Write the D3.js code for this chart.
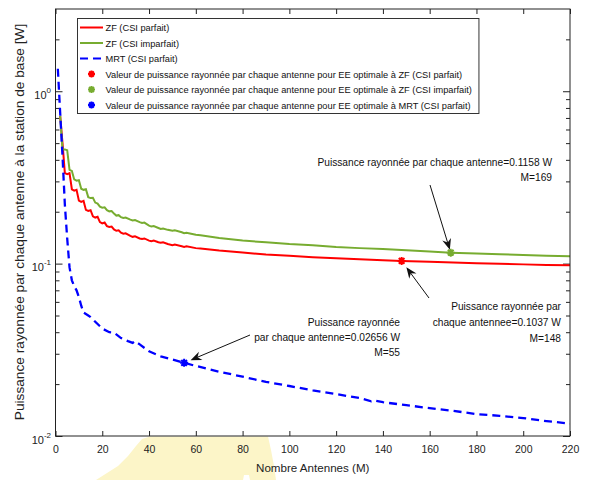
<!DOCTYPE html>
<html>
<head>
<meta charset="utf-8">
<script src="https://cdn.jsdelivr.net/npm/d3@7"></script>
<style>
  html, body { margin: 0; padding: 0; background: #fff; }
  svg { display: block; font-family: "Liberation Sans", Arial, Helvetica, sans-serif; }
</style>
</head>
<body>
<svg id="chart" width="592" height="480"></svg>
<script>
// ---- data -------------------------------------------------------------
// ZF, perfect CSI: radiated power per antenna [W] versus number of antennas M
const zfPerfectM = [2,3,4,5,6,7,8,9,10,11,12,13,14,15,16,17,18,19,20,21,22,23,24,25,26,27,28,29,30,
  32,33,34,36,37,38,40,41,42,44,45,46,48,50,51,54,55,56,60,62,
  70,80,90,100,110,120,130,140,148,160,170,180,190,200,210,220];
const zfPerfectP = [0.72,0.50,0.335,0.33,0.335,0.27,0.265,0.268,0.232,0.228,
  0.231,0.205,0.202,0.204,0.188,0.185,0.187,0.174,0.171,0.173,
  0.165,0.163,0.164,0.158,0.155,0.156,0.151,0.149,0.150,
  0.145,0.143,0.144,0.140,0.139,0.140,0.136,0.135,0.136,0.133,0.132,0.133,0.130,0.128,0.129,
  0.126,0.125,0.126,0.123,0.1225,
  0.119,0.116,0.113,0.111,0.109,0.1075,0.106,0.1047,0.1037,
  0.1025,0.1015,0.1005,0.0997,0.099,0.0983,0.0977];

// ZF, imperfect CSI
const zfImperfectM = [2,3,4,5,6,7,8,9,10,11,12,13,14,15,16,17,18,19,20,21,22,23,24,25,26,27,28,29,30,
  32,33,34,36,37,38,40,41,42,44,45,46,48,50,51,54,55,56,60,62,
  70,80,90,100,110,120,130,140,150,160,169,180,190,200,210,220];
const zfImperfectP = [0.72,0.46,0.46,0.455,0.35,0.345,0.308,0.303,0.305,0.272,
  0.268,0.270,0.243,0.240,0.241,0.226,0.223,0.214,0.211,0.212,
  0.204,0.201,0.202,0.195,0.190,0.191,0.186,0.184,0.185,
  0.180,0.178,0.179,0.174,0.172,0.173,0.166,0.164,0.165,0.161,0.159,0.160,0.157,0.155,0.156,
  0.152,0.150,0.151,0.147,0.146,
  0.141,0.136,0.133,0.130,0.128,0.125,0.123,0.1215,
  0.1195,0.1175,0.1158,0.1145,0.1133,0.1122,0.1112,0.1103];

// MRT, perfect CSI
const mrtM = [1,2,3,4,5,6,7,8,9,10,11,12,13,14,15,17,20,23,25,28,31,33,34,36,40,
  45,50,55,60,70,80,90,100,110,120,130,135,136,140,150,160,170,180,190,200,210,220];
const mrtP = [1.35,0.75,0.42,0.22,0.14,0.095,0.080,0.074,0.070,0.064,0.057,0.052,0.051,0.050,0.049,
  0.046,0.042,0.040,0.0398,0.037,0.0355,0.0347,0.0355,0.034,0.031,
  0.029,0.0278,0.02656,0.0255,0.0236,0.0221,0.0206,0.0195,0.0184,0.0175,0.0166,
  0.0159,0.0161,0.0157,0.0151,0.0145,0.0140,0.0134,0.0131,0.0127,0.0122,0.0118];

// Energy-efficiency optimum for each curve
const optimumM = [148, 169, 55];
const optimumP = [0.1037, 0.1158, 0.02656];

// Axes
const xTicks = [0,20,40,60,80,100,120,140,160,180,200,220];
const yMajorExponents = [-2,-1,0];
const yMinorTicks = [0.02,0.03,0.04,0.05,0.06,0.07,0.08,0.09,0.2,0.3,0.4,0.5,0.6,0.7,0.8,0.9,2];

// Texts
const xTitle = "Nombre Antennes (M)";
const yTitle = "Puissance rayonnée par chaque antenne à la station de base [W]";
const legendLabels = [
  "ZF (CSI parfait)",
  "ZF (CSI imparfait)",
  "MRT (CSI parfait)",
  "Valeur de puissance rayonnée par chaque antenne pour EE optimale à ZF (CSI parfait)",
  "Valeur de puissance rayonnée par chaque antenne pour EE optimale à ZF (CSI imparfait)",
  "Valeur de puissance rayonnée par chaque antenne pour EE optimale à MRT (CSI parfait)"
];
const noteImperfect = ["Puissance rayonnée par chaque antenne=0.1158 W", "M=169"];
const notePerfect = ["Puissance rayonnée par", "chaque antennee=0.1037 W", "M=148"];
const noteMrt = ["Puissance rayonnée", "par chaque antenne=0.02656 W", "M=55"];

// ---- drawing ----------------------------------------------------------
const colors = { red: "#ff0000", green: "#77ac30", blue: "#0000ff" };
const svg = d3.select("#chart");
const plotLeft = 55.5, plotRight = 570, plotTop = 9, plotBottom = 436;

const x = d3.scaleLinear().domain([0, 220]).range([plotLeft, plotRight]);
const y = d3.scaleLog().domain([0.01, 3]).range([plotBottom, plotTop]);

// pale yellow stamp behind the x axis labels
svg.append("path")
  .attr("d", "M96,480 L118,466 L128,456 L136,446 L142,439 L150,436.5 L268,436.5 L271,450 L274,466 L276,480 L250,480 L249,475 L244,475 L243,480 Z")
  .attr("fill", "#fcf5c8");

// frame ticks (inward, on all four sides)
const xb = svg.append("g").attr("transform", `translate(0,${plotBottom})`)
  .call(d3.axisBottom(x).tickValues(xTicks).tickSize(-5).tickPadding(10).tickFormat(d3.format("d")));
const xt = svg.append("g").attr("transform", `translate(0,${plotTop})`)
  .call(d3.axisTop(x).tickValues(xTicks).tickSize(-5).tickFormat(""));
const majorVals = yMajorExponents.map(e => Math.pow(10, e));
const yl = svg.append("g").attr("transform", `translate(${plotLeft},0)`)
  .call(d3.axisLeft(y).tickValues(majorVals).tickSize(-7).tickFormat(""));
const yr = svg.append("g").attr("transform", `translate(${plotRight},0)`)
  .call(d3.axisRight(y).tickValues(majorVals).tickSize(-7).tickFormat(""));
const ylm = svg.append("g").attr("transform", `translate(${plotLeft},0)`)
  .call(d3.axisLeft(y).tickValues(yMinorTicks).tickSize(-4).tickFormat(""));
const yrm = svg.append("g").attr("transform", `translate(${plotRight},0)`)
  .call(d3.axisRight(y).tickValues(yMinorTicks).tickSize(-4).tickFormat(""));
[xb, xt, yl, yr, ylm, yrm].forEach(g => {
  g.select(".domain").remove();
  g.selectAll("line").attr("stroke", "#222");
});
xb.selectAll("text").attr("font-size", 10.5).attr("fill", "#222")
  .attr("font-family", "'Liberation Sans', Arial, sans-serif");

// y tick labels as powers of ten
const yLab = svg.append("g").attr("fill", "#222");
yMajorExponents.forEach(e => {
  const t = yLab.append("text")
    .attr("x", 51).attr("y", y(Math.pow(10, e)) + 7.5)
    .attr("text-anchor", "end").attr("font-size", 11);
  t.append("tspan").text("10");
  t.append("tspan").attr("dy", -6).attr("font-size", 8).text(String(e));
});

// curves
const line = d3.line().x(d => x(d[0])).y(d => y(d[1]));
const plot = svg.append("g");
plot.append("clipPath").attr("id", "clip")
  .append("rect").attr("x", plotLeft).attr("y", plotTop)
  .attr("width", plotRight - plotLeft).attr("height", plotBottom - plotTop);
const curves = plot.append("g").attr("clip-path", "url(#clip)");

curves.append("path")
  .datum(d3.zip(zfPerfectM, zfPerfectP))
  .attr("d", line).attr("fill", "none").attr("stroke", colors.red).attr("stroke-width", 2);
curves.append("path")
  .datum(d3.zip(zfImperfectM, zfImperfectP))
  .attr("d", line).attr("fill", "none").attr("stroke", colors.green).attr("stroke-width", 2);
curves.append("path")
  .datum(d3.zip(mrtM, mrtP))
  .attr("d", line).attr("fill", "none").attr("stroke", colors.blue).attr("stroke-width", 2.3)
  .attr("stroke-dasharray", "8,5");

// asterisk marker
function asterisk(g, cx, cy, r, color) {
  const d = r * Math.SQRT1_2;
  g.append("path")
    .attr("d", `M${cx - r},${cy}L${cx + r},${cy}M${cx},${cy - r}L${cx},${cy + r}` +
               `M${cx - d},${cy - d}L${cx + d},${cy + d}M${cx - d},${cy + d}L${cx + d},${cy - d}`)
    .attr("stroke", color).attr("stroke-width", 2).attr("fill", "none");
}
const markerColors = [colors.red, colors.green, colors.blue];
optimumM.forEach((m, i) => asterisk(curves, x(m), y(optimumP[i]), 4, markerColors[i]));

// plot frame
svg.append("rect")
  .attr("x", plotLeft).attr("y", plotTop)
  .attr("width", plotRight - plotLeft).attr("height", plotBottom - plotTop)
  .attr("fill", "none").attr("stroke", "#222").attr("stroke-width", 1);

// axis titles
svg.append("text")
  .attr("x", (plotLeft + plotRight) / 2).attr("y", 472)
  .attr("text-anchor", "middle").attr("font-size", 11.6).attr("fill", "#222")
  .text(xTitle);
svg.append("text")
  .attr("transform", `translate(24,222) rotate(-90)`)
  .attr("text-anchor", "middle").attr("font-size", 13.7).attr("fill", "#222")
  .text(yTitle);

// legend
const lg = svg.append("g");
const lgBox = lg.append("rect").attr("fill", "#fff").attr("stroke", "#333").attr("stroke-width", 1);
const rowY = i => 27.5 + i * 15.5;
let maxEnd = 0;
legendLabels.forEach((lab, i) => {
  const yy = rowY(i);
  if (i < 3) {
    const c = markerColors[i];
    lg.append("line").attr("x1", 80).attr("x2", 103).attr("y1", yy).attr("y2", yy)
      .attr("stroke", c).attr("stroke-width", 2)
      .attr("stroke-dasharray", i === 2 ? "8,5" : null);
  } else {
    asterisk(lg, 91.5, yy, 3.5, markerColors[i - 3]);
  }
  const t = lg.append("text").attr("x", 105.5).attr("y", yy + 3.5)
    .attr("font-size", 9.25).attr("fill", "#111").text(lab);
  maxEnd = Math.max(maxEnd, 105.5 + t.node().getComputedTextLength());
});
lgBox.attr("x", 77.5).attr("y", 18.5).attr("width", maxEnd + 7 - 77.5).attr("height", 95);

// annotations with arrows
const ann = svg.append("g").attr("fill", "#111").attr("font-size", 10.2);
function arrow(px, py, tx, ty, gap) {
  const dx = tx - px, dy = ty - py, len = Math.hypot(dx, dy);
  const ux = dx / len, uy = dy / len;
  const hx = px + ux * gap, hy = py + uy * gap;
  ann.append("line").attr("x1", tx).attr("y1", ty).attr("x2", hx + ux * 6).attr("y2", hy + uy * 6)
    .attr("stroke", "#111").attr("stroke-width", 1);
  const ang = Math.atan2(-uy, -ux) * 180 / Math.PI;
  ann.append("path")
    .attr("d", "M0,0 L-11,-4.5 L-7.5,0 L-11,4.5 Z")
    .attr("transform", `translate(${hx},${hy}) rotate(${ang})`)
    .attr("fill", "#111");
}
function note(lines, xr, y0, dy) {
  lines.forEach((s, i) => ann.append("text").attr("x", xr).attr("y", y0 + i * dy)
    .attr("text-anchor", "end").text(s));
}
// imperfect CSI optimum
arrow(x(optimumM[1]), y(optimumP[1]), 430, 185, 3);
note(noteImperfect, 552, 165.5, 15);
// perfect CSI optimum
arrow(x(optimumM[0]), y(optimumP[0]), 429, 298, 8);
note(notePerfect, 561, 310, 16);
// MRT optimum
arrow(x(optimumM[2]), y(optimumP[2]), 250, 335, 7);
note(noteMrt, 400, 325.5, 15.2);
</script>
</body>
</html>
